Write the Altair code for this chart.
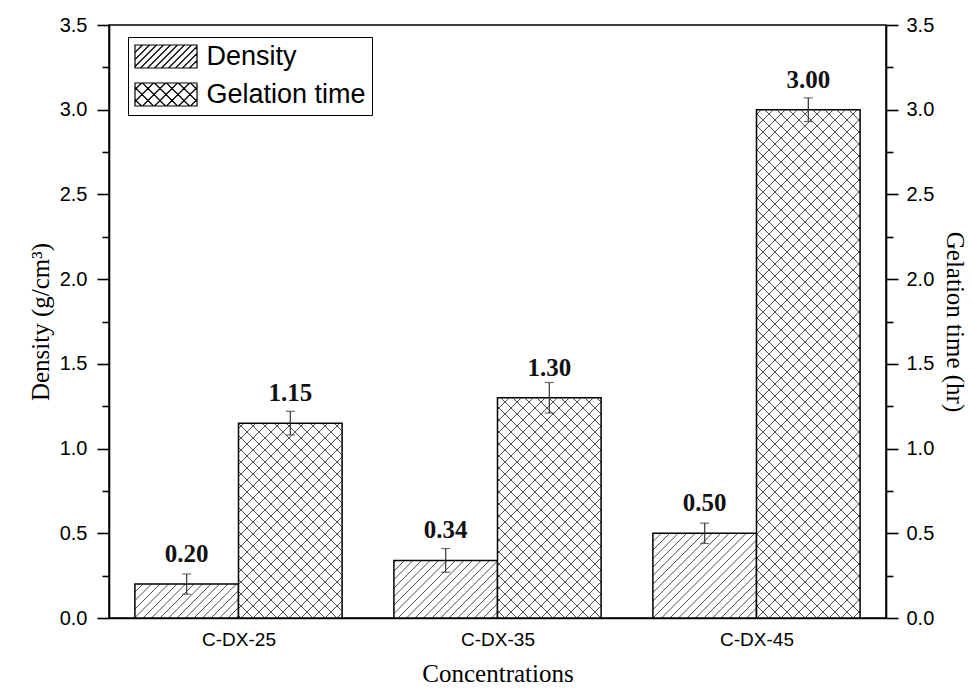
import math
import altair as alt
import pandas as pd

# ---------------- data ----------------
categories = ["C-DX-25", "C-DX-35", "C-DX-45"]
series_names = ["Density", "Gelation time"]
density = [0.20, 0.34, 0.50]
density_err = [0.06, 0.07, 0.06]
gelation = [1.15, 1.30, 3.00]
gelation_err = [0.07, 0.09, 0.07]
y_ticks = [0.0, 0.25, 0.5, 0.75, 1.0, 1.25, 1.5, 1.75, 2.0, 2.25, 2.5, 2.75, 3.0, 3.25, 3.5]

# ---------------- layout constants ----------------
PLOT_W, PLOT_H = 777, 593
Y_MAX = 3.5
X_MAX = len(categories)
PX_X = PLOT_W / X_MAX
PX_Y = PLOT_H / Y_MAX
BAR_W = 0.4
GROUP_PAD = 0.1


def bars_df(values, errs, offset, name):
    rows = []
    for i, (c, v, e) in enumerate(zip(categories, values, errs)):
        x0 = i + GROUP_PAD + offset
        rows.append(dict(cat=c, series=name, x0=x0, x1=x0 + BAR_W, xm=x0 + BAR_W / 2,
                         val=v, lo=v - e, hi=v + e, label=f"{v:.2f}", zero=0.0))
    return pd.DataFrame(rows)


def hatch_df(bars, spacing, dirs):
    rows = []
    for _, b in bars.iterrows():
        x0, x1, H = b.x0 * PX_X, b.x1 * PX_X, b.val * PX_Y
        for d in dirs:
            if d == "/":
                k0, k1 = math.floor((x0 - H) / spacing), math.ceil(x1 / spacing)
                for k in range(k0, k1 + 1):
                    c = k * spacing
                    xa, xb = max(x0, c), min(x1, c + H)
                    if xb - xa > 0.3:
                        rows.append(dict(x=xa / PX_X, y=(xa - c) / PX_Y, x2=xb / PX_X, y2=(xb - c) / PX_Y))
            else:
                k0, k1 = math.floor(x0 / spacing), math.ceil((x1 + H) / spacing)
                for k in range(k0, k1 + 1):
                    c = k * spacing
                    xa, xb = max(x0, c - H), min(x1, c)
                    if xb - xa > 0.3:
                        rows.append(dict(x=xa / PX_X, y=(c - xa) / PX_Y, x2=xb / PX_X, y2=(c - xb) / PX_Y))
    return pd.DataFrame(rows)


def swatch_path(spacing_px, dirs, r=11.5, w_px=62, h_px=23):
    W = w_px / 2 / r
    Hh = h_px / 2 / r
    s = spacing_px / r
    parts = [f"M{-W:.3f},{-Hh:.3f}L{W:.3f},{-Hh:.3f}L{W:.3f},{Hh:.3f}L{-W:.3f},{Hh:.3f}Z"]
    for d in dirs:
        k0 = math.floor((-W - 2 * Hh) / s) - 1
        k1 = math.ceil((W + 2 * Hh) / s) + 1
        for k in range(k0, k1 + 1):
            c = k * s
            xa, xb = max(-W, c - Hh), min(W, c + Hh)
            if xb - xa > 0.02:
                if d == "/":   # y-up: yu = x - c
                    ya, yb = xa - c, xb - c
                else:          # y-up: yu = c - x
                    ya, yb = c - xa, c - xb
                parts.append(f"M{xa:.3f},{-ya:.3f}L{xb:.3f},{-yb:.3f}")
    return "".join(parts)


dens = bars_df(density, density_err, 0.0, series_names[0])
gel = bars_df(gelation, gelation_err, BAR_W, series_names[1])
dens_h = hatch_df(dens, 8.5, ["/"])
gel_h = hatch_df(gel, 12.0, ["/", "\\"])

density_path = swatch_path(7.0, ["/"])
gel_path = swatch_path(12.0, ["/", "\\"])

# ---------------- scales / axes ----------------
xscale = alt.Scale(domain=[0, X_MAX], nice=False, zero=False)
yscale = alt.Scale(domain=[0, Y_MAX], nice=False)

x_axis = alt.Axis(
    values=[i + 0.5 for i in range(len(categories))],
    labelExpr=f"{categories!r}[floor(datum.value)]",
    ticks=False, tickSize=0, grid=False,
    domainColor="black", domainWidth=1.5,
    labelFont="Liberation Sans", labelFontSize=19, labelColor="black", labelPadding=12,
    title="Concentrations", titleFont="Liberation Serif", titleFontSize=25,
    titleFontWeight="normal", titleColor="black", titlePadding=12,
)

tick_size = {"condition": {"test": "datum.value % 0.5 !== 0", "value": 7}, "value": 12}
label_expr = "datum.value % 0.5 === 0 ? format(datum.value, '.1f') : ''"


def y_axis(orient, title, label_pad, title_pad):
    return alt.Axis(
        orient=orient, values=y_ticks, labelExpr=label_expr, grid=False,
        tickSize=tick_size, tickWidth=1.6, tickColor="black",
        domainColor="black", domainWidth=1.6, labelOverlap=False,
        labelFont="Liberation Sans", labelFontSize=20, labelColor="black", labelPadding=label_pad,
        title=title, titleFont="Liberation Serif", titleFontSize=25, titleFontWeight="normal",
        titleColor="black", titlePadding=title_pad,
    )


def series_layer(bars, hatch, axis, legend_layer=False):
    X = lambda f: alt.X(f"{f}:Q", scale=xscale, axis=x_axis)
    Y = lambda f: alt.Y(f"{f}:Q", scale=yscale, axis=axis)
    base = alt.Chart(bars)
    fill = base.mark_rect(color="white").encode(x=X("x0"), x2="x1", y=Y("zero"), y2="val")
    hatch_lines = alt.Chart(hatch).mark_rule(color="#3a3a3a", strokeWidth=0.9).encode(
        x=X("x"), y=Y("y"), x2="x2", y2="y2")
    outline = base.mark_rect(fillOpacity=0, stroke="black", strokeWidth=1.5).encode(
        x=X("x0"), x2="x1", y=Y("zero"), y2="val")
    err = base.mark_rule(color="#333333", strokeWidth=1.2).encode(x=X("xm"), y=Y("lo"), y2="hi")
    cap_lo = base.mark_tick(orient="horizontal", size=9, thickness=1.2, color="#333333").encode(
        x=X("xm"), y=Y("lo"))
    cap_hi = base.mark_tick(orient="horizontal", size=9, thickness=1.2, color="#333333").encode(
        x=X("xm"), y=Y("hi"))
    labels = base.mark_text(dy=-22, baseline="alphabetic", align="center",
                            font="Liberation Serif", fontSize=25, fontWeight="bold",
                            color="#111111").encode(x=X("xm"), y=Y("val"), text="label:N")
    layers = [fill, hatch_lines, outline, err, cap_lo, cap_hi, labels]
    if legend_layer:
        pts = base.mark_point(opacity=0).encode(
            x=X("xm"), y=Y("val"),
            shape=alt.Shape("series:N",
                            scale=alt.Scale(domain=series_names, range=[density_path, gel_path]),
                            legend=alt.Legend(
                                title=None, orient="none", legendX=19, legendY=12,
                                symbolSize=529, symbolOffset=18.5, labelOffset=27,
                                symbolStrokeColor="black", symbolFillColor="white",
                                symbolStrokeWidth=1.2, symbolOpacity=1,
                                labelFont="Liberation Sans", labelFontSize=27, labelColor="black",
                                strokeColor="black", padding=6, rowPadding=9,
                            )))
        layers.append(pts)
    return alt.layer(*layers)


left = series_layer(dens, dens_h, y_axis("left", "Density (g/cm³)", 10, 6), legend_layer=True)
right = series_layer(gel, gel_h, y_axis("right", "Gelation time (hr)", 8, 8))

chart = (
    alt.layer(left, right)
    .resolve_scale(y="independent")
    .properties(
        width=PLOT_W, height=PLOT_H,
        autosize=alt.AutoSizeParams(type="none"),
        padding={"left": 109, "top": 25, "right": 87, "bottom": 72},
        background="white",
    )
    .configure_view(stroke="black", strokeWidth=1.5)
)

chart.save("out.html", embed_options={"renderer": "svg", "actions": False})
